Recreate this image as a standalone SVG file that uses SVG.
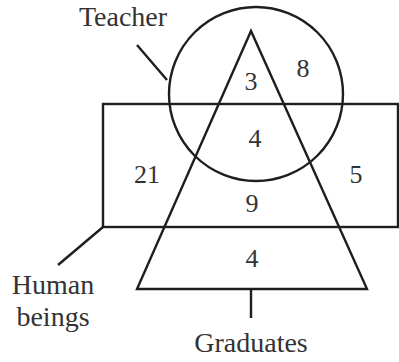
<svg xmlns="http://www.w3.org/2000/svg" width="399" height="362" viewBox="0 0 399 362">
<style>
.s{fill:none;stroke:#1e1e1e;stroke-width:2.4;stroke-linejoin:miter}
.t{font-family:"Liberation Serif","Times New Roman",serif;fill:#333;text-anchor:middle}
.lbl{font-size:28px}
.num{font-size:26px}
</style>
<rect width="399" height="362" fill="#fff"/>
<g id="human-beings">
<rect class="s" x="103" y="104" width="295" height="123"/>
</g>
<g id="teacher">
<circle class="s" cx="256" cy="94" r="87"/>
</g>
<g id="graduates">
<polygon class="s" points="251,31 137,289 367,289"/>
</g>
<g id="connectors">
<line class="s" x1="137" y1="45" x2="167" y2="80"/>
<line class="s" x1="103" y1="227" x2="58" y2="265"/>
<line class="s" x1="251" y1="289" x2="251" y2="318"/>
</g>
<g id="labels">
<text class="t lbl" x="123" y="26">Teacher</text>
<text class="t lbl" x="53" y="294">Human</text>
<text class="t lbl" x="53" y="326">beings</text>
<text class="t lbl" x="251" y="352">Graduates</text>
</g>
<g id="numbers">
<text class="t num" x="251" y="90">3</text>
<text class="t num" x="303" y="77">8</text>
<text class="t num" x="255" y="147">4</text>
<text class="t num" x="147" y="183">21</text>
<text class="t num" x="356" y="183">5</text>
<text class="t num" x="252" y="212">9</text>
<text class="t num" x="252" y="267">4</text>
</g>
</svg>
